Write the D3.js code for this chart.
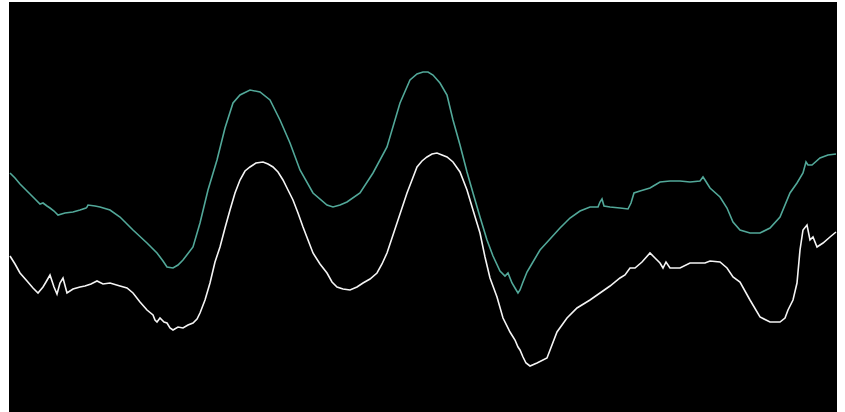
<!DOCTYPE html>
<html>
<script src='https://d3js.org/d3.v7.min.js'></script>
<style>
 body {margin:0; background:white;}
 path {fill:none;}
</style>
<body onload='init()'>
<svg width=845 height=412></svg>
<script>
// time samples (ms) and levels
var tealT = [0,5,10,15,20,25,30,33,37,40,44,48,55,63,70,76,77,78,85,90,100,110,123,137,147,153,157,163,168,173,183,190,198,207,215,223,230,240,250,260,270,280,290,303,317,323,330,337,350,363,377,390,400,407,413,418,423,430,437,443,450,457,463,470,477,483,490,495,498,502,505,508,510,513,517,520,530,540,550,560,570,580,588,590,592,594,600,610,618,621,624,630,640,645,650,660,670,680,690,693,695,700,710,717,723,730,740,750,760,770,780,787,793,796,798,802,810,818,826];
var tealV = [237,232,226,221,216,211,206,207,204,202,199,195,197,198,200,202,203,205,204,203,200,193,180,167,157,149,143,142,145,150,163,187,220,250,282,307,315,320,318,310,290,267,240,217,205,203,205,208,217,237,263,307,330,336,338,338,335,327,315,290,265,238,217,193,170,154,139,134,137,127,122,117,120,128,138,143,160,171,182,192,199,203,203,208,211,204,203,202,201,207,217,219,222,225,228,229,229,228,229,233,230,222,213,202,188,180,177,177,182,193,217,227,237,248,245,245,252,255,256];

var whiteT = [0,5,10,17,23,28,33,36,40,44,47,50,53,57,63,70,75,78,81,87,93,100,110,117,123,130,137,143,145,147,150,154,157,160,163,168,173,178,183,187,190,195,200,205,210,215,220,225,230,235,240,246,253,258,263,268,273,278,283,288,293,298,303,310,317,322,327,333,340,347,353,360,367,372,377,382,387,392,397,402,407,412,417,422,427,432,437,443,450,457,463,470,475,480,487,493,500,505,508,510,513,516,520,527,537,547,557,567,580,590,600,610,615,620,625,632,640,645,650,653,656,660,670,680,690,695,700,710,717,723,730,740,750,760,770,775,778,783,787,790,793,797,800,803,807,813,820,826];
var whiteV = [154,146,137,129,122,117,123,128,135,123,116,127,132,117,121,123,124,125,126,129,126,127,124,122,117,108,100,95,90,88,92,88,87,82,80,83,82,85,87,91,97,110,127,148,163,182,200,217,230,239,243,247,248,246,243,238,230,220,210,197,183,170,157,146,137,128,123,121,120,123,127,131,137,146,157,172,187,202,217,230,243,249,253,256,257,255,253,248,238,220,200,177,153,132,113,92,78,70,63,60,53,47,44,47,52,78,92,102,110,117,124,132,135,142,142,148,157,152,147,142,148,142,142,147,147,147,149,148,142,133,128,110,93,88,88,92,100,110,127,160,180,185,170,173,163,167,173,178,180,182];

function init() {
  var svg = d3.select('svg');
  var xs = d3.scaleLinear().domain([-1, 827]).range([9, 837]);
  var ys = d3.scaleLinear().domain([0, 408]).range([410, 2]);

  // black plot area, running to the bottom edge
  svg.append('rect')
    .attr('x', xs.range()[0])
    .attr('y', ys.range()[1])
    .attr('width', xs.range()[1] - xs.range()[0])
    .attr('height', ys(-2) - ys.range()[1])
    .attr('fill', '#000');

  var line = d3.line()
    .x(function(d){return xs(d[0]);})
    .y(function(d){return ys(d[1]);});

  svg.append('path')
    .datum(d3.zip(tealT, tealV))
    .attr('d', line)
    .attr('stroke', '#52a899')
    .attr('stroke-width', 1.6);

  svg.append('path')
    .datum(d3.zip(whiteT, whiteV))
    .attr('d', line)
    .attr('stroke', '#f4f4f4')
    .attr('stroke-width', 1.6);
}
</script>
</body>
</html>
